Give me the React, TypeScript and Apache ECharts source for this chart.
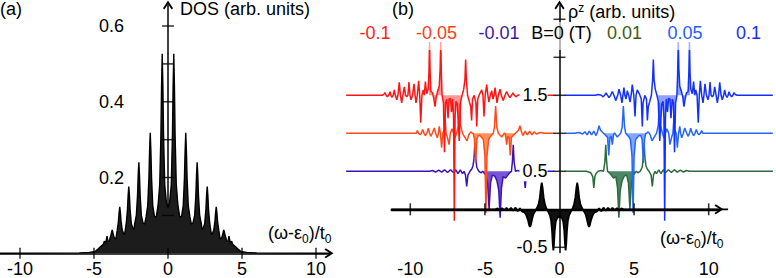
import React, { useEffect, useRef } from 'react';
import * as echarts from 'echarts';

// ---------- data ----------
const DOS_TICKS_X = [-10, -5, 0, 5, 10];
const DOS_TICKS_Y = [0.1, 0.2, 0.3, 0.4, 0.5, 0.6];
const DOS_LABELS_Y = [0.2, 0.4, 0.6];
const RHO_TICKS_X = [-10, -5, 5, 10];
const RHO_TICKS_Y = [-0.5, 0.5, 1, 1.5, 2, 2.5];
const RHO_LABELS_Y = [-0.5, 0.5, 1.5];
const RHO_LABELS_X = [-10, -5, 0, 5, 10];

const B_LABELS = ['-0.1', '-0.05', '-0.01', 'B=0 (T)', '0.01', '0.05', '0.1'];
const B_BASELINES = [1.5, 1.0, 0.5, 0, 0.5, 1.0, 1.5];

// DOS, left half (the curve is mirror symmetric about 0)
const DOS_LEFT: number[][] = [
  [-11.4, 0], [-8, 0.0005], [-6, 0.001], [-5.3, 0.002], [-5.0, 0.004], [-4.85, 0.007], [-4.7, 0.012], [-4.55, 0.018], [-4.45, 0.021],
  [-4.37, 0.024], [-4.3, 0.032], [-4.23, 0.027],
  [-4.19, 0.031], [-4.155, 0.038], [-4.12, 0.045], [-4.085, 0.038], [-4.05, 0.032], [-3.96, 0.031],
  [-3.92, 0.04], [-3.855, 0.048], [-3.81, 0.056], [-3.77, 0.062], [-3.73, 0.056], [-3.685, 0.048], [-3.62, 0.04], [-3.52, 0.038],
  [-3.43, 0.061], [-3.35, 0.084], [-3.305, 0.107], [-3.26, 0.123], [-3.215, 0.107], [-3.17, 0.084], [-3.09, 0.061], [-3.0, 0.052], [-2.93, 0.05],
  [-2.82, 0.079], [-2.74, 0.115], [-2.695, 0.152], [-2.65, 0.176], [-2.605, 0.152], [-2.56, 0.115], [-2.48, 0.079], [-2.38, 0.066], [-2.3, 0.063],
  [-2.25, 0.078], [-2.14, 0.1], [-2.06, 0.152], [-2.015, 0.205], [-1.97, 0.24], [-1.925, 0.205], [-1.88, 0.152], [-1.8, 0.1], [-1.69, 0.08], [-1.58, 0.077],
  [-1.48, 0.096], [-1.37, 0.126], [-1.29, 0.198], [-1.245, 0.27], [-1.2, 0.318], [-1.155, 0.27], [-1.11, 0.198], [-1.03, 0.126], [-0.92, 0.098], [-0.8, 0.094],
  [-0.67, 0.127], [-0.56, 0.181], [-0.48, 0.311], [-0.435, 0.44], [-0.39, 0.527], [-0.345, 0.44], [-0.3, 0.311], [-0.22, 0.181], [-0.11, 0.135], [0, 0.12],
];

// rho^z for B = -0.1 T (B = +0.1 T is its mirror image), relative to its baseline
const RHO_M010: number[][] = [
  [-14.3, 0], [-11.9, 0], [-11.78, 0.01], [-11.7, 0.035], [-11.62, 0], [-11.54, -0.02], [-11.45, 0], [-11.36, 0.047], [-11.3, 0], [-11.23, -0.026],
  [-11.15, 0], [-11.07, 0.07], [-11.0, 0], [-10.91, -0.06], [-10.83, 0], [-10.74, 0.17], [-10.66, 0], [-10.58, -0.1], [-10.5, 0], [-10.4, 0.11],
  [-10.32, 0], [-10.24, -0.02], [-10.16, 0], [-10.09, 0.175], [-10.02, 0], [-9.95, -0.06], [-9.85, 0], [-9.75, 0.15], [-9.68, 0], [-9.62, -0.1],
  [-9.53, 0], [-9.44, 0.19], [-9.37, 0], [-9.3, -0.36], [-9.22, 0], [-9.13, 0.07], [-9.06, 0], [-8.99, 0.18], [-8.9, 0.02], [-8.8, 0.08],
  [-8.75, 0.3], [-8.71, 0.7], [-8.67, 0.3], [-8.62, 0.05], [-8.5, 0.03], [-8.42, -0.05], [-8.34, -0.15], [-8.26, -0.02], [-8.16, 0.06], [-8.06, 0.12],
  [-8.0, 0.35], [-7.96, 0.7], [-7.92, 0.3], [-7.87, 0], [-7.78, -0.1], [-7.71, -0.75], [-7.64, -0.1], [-7.56, -0.05], [-7.47, -0.3], [-7.4, -0.05],
  [-7.31, -0.04], [-7.24, -0.22], [-7.16, -0.05], [-7.1, -0.3], [-7.05, -1.65], [-7.0, -0.3], [-6.94, -0.08], [-6.85, -0.12], [-6.72, -0.6], [-6.62, -0.08],
  [-6.53, 0], [-6.42, 0.08], [-6.34, 0.2], [-6.29, 0.47], [-6.24, 0.2], [-6.16, 0], [-6.05, -0.08], [-5.95, -0.15], [-5.89, -0.33], [-5.83, -0.05],
  [-5.72, 0], [-5.6, -0.1], [-5.55, -0.41], [-5.48, -0.05], [-5.35, 0.02], [-5.21, 0.07], [-5.13, 0], [-5.06, -0.28], [-4.98, 0], [-4.88, 0.14],
  [-4.8, 0], [-4.73, -0.09], [-4.64, 0], [-4.54, 0.06], [-4.46, -0.05], [-4.38, 0], [-4.32, 0.1], [-4.25, 0], [-4.19, -0.1], [-4.1, 0],
  [-3.99, 0.08], [-3.9, 0], [-3.77, -0.07], [-3.65, 0], [-3.54, 0.05], [-3.43, 0], [-3.32, -0.03], [-3.22, 0], [-3.12, 0.03], [-3.02, 0],
  [-2.92, -0.02], [-2.8, 0], [-2.6, 0.01], [-2.4, 0], [-0.35, 0],
];

// rho^z for B = -0.05 T (B = +0.05 T is its mirror image)
const RHO_M005: number[][] = [
  [-14.3, 0], [-9.7, 0], [-9.6, 0], [-9.53, 0.035], [-9.44, 0], [-9.35, -0.02], [-9.26, 0], [-9.17, 0.05], [-9.08, 0], [-8.99, -0.03],
  [-8.9, 0], [-8.79, 0.066], [-8.71, 0], [-8.63, -0.04], [-8.53, 0], [-8.39, 0.07], [-8.3, 0], [-8.19, -0.06], [-8.12, 0], [-8.06, 0.09],
  [-7.98, 0], [-7.9, -0.19], [-7.82, 0], [-7.72, 0.05], [-7.67, 0.2], [-7.6, 0], [-7.52, -0.05], [-7.4, -0.15], [-7.32, 0], [-7.2, 0.06],
  [-7.1, 0], [-7.0, -0.06], [-6.9, 0], [-6.78, 0.1], [-6.7, 0.4], [-6.62, 0.1], [-6.5, 0], [-6.35, -0.05], [-6.2, -0.1], [-6.08, -0.02],
  [-5.95, 0.02], [-5.85, 0], [-5.78, 0], [-5.7, -0.08], [-5.62, -0.39], [-5.54, -0.08], [-5.45, -0.03], [-5.33, -0.03], [-5.1, -0.08], [-5.0, -0.3],
  [-4.93, -1.05], [-4.86, -0.3], [-4.75, -0.08], [-4.66, -0.05], [-4.52, -0.02], [-4.44, 0], [-4.36, 0.08], [-4.28, 0.36], [-4.2, 0.08], [-4.1, 0],
  [-3.87, -0.05], [-3.72, 0], [-3.65, 0], [-3.6, -0.05], [-3.54, -0.15], [-3.47, -0.04], [-3.38, -0.06], [-3.3, -0.29], [-3.22, -0.05], [-3.1, -0.03],
  [-2.95, 0], [-2.75, 0.04], [-2.65, 0.1], [-2.55, 0.02], [-2.45, -0.03], [-2.3, 0.03], [-2.15, -0.02], [-2.0, 0.03], [-1.85, -0.02], [-1.7, 0.02],
  [-1.55, -0.01], [-1.3, 0.01], [-1.0, 0], [-0.35, 0],
];

// rho^z for B = -0.01 T (B = +0.01 T is its mirror image)
const RHO_M001: number[][] = [
  [-14.3, 0], [-8.7, 0], [-8.5, 0.01], [-8.3, -0.01], [-8.1, 0.015], [-7.9, -0.01], [-7.7, 0.02], [-7.5, -0.015], [-7.3, 0.02], [-7.1, -0.02],
  [-6.95, 0.02], [-6.8, -0.03], [-6.65, 0.02], [-6.5, -0.03], [-6.4, 0], [-6.3, -0.05], [-6.22, -0.2], [-6.14, -0.05], [-6.0, 0], [-5.88, 0.03],
  [-5.8, 0.07], [-5.73, 0.17], [-5.67, 0.37], [-5.61, 0.17], [-5.54, 0.05], [-5.4, 0], [-5.25, -0.02], [-5.15, 0], [-4.95, -0.05], [-4.82, -0.15],
  [-4.72, -0.5], [-4.62, -0.15], [-4.5, -0.05], [-4.35, -0.06], [-4.2, -0.12], [-4.07, -0.25], [-3.98, -0.61], [-3.89, -0.22], [-3.78, -0.07], [-3.62, -0.09],
  [-3.5, -0.06], [-3.35, -0.02], [-3.22, 0], [-3.16, 0.12], [-3.1, 0.35], [-3.04, 0.12], [-2.95, 0], [-2.8, 0.01], [-2.6, 0], [-2.45, -0.03],
  [-2.37, -0.07], [-2.3, -0.22], [-2.23, -0.07], [-2.1, -0.02], [-1.8, 0], [-0.35, 0],
];

// rho^z for B = 0, left half (mirror symmetric)
const RHO_B0_LEFT: number[][] = [
  [-11.3, 0], [-4.3, 0], [-4.15, 0.012], [-4.0, -0.01], [-3.85, 0.015], [-3.7, -0.012], [-3.55, 0.018], [-3.4, -0.015], [-3.25, 0.02], [-3.1, -0.02],
  [-2.95, 0.022], [-2.8, -0.025], [-2.65, 0.015], [-2.5, -0.03], [-2.35, -0.04], [-2.22, -0.08], [-2.1, -0.15], [-2.03, -0.21], [-1.98, -0.23], [-1.93, -0.21],
  [-1.86, -0.15], [-1.76, -0.07], [-1.62, -0.02], [-1.5, 0.02], [-1.4, 0.07], [-1.32, 0.15], [-1.25, 0.28], [-1.19, 0.35], [-1.13, 0.28], [-1.06, 0.15],
  [-0.98, 0.07], [-0.88, 0.01], [-0.76, -0.03], [-0.64, -0.08], [-0.56, -0.15], [-0.5, -0.28], [-0.45, -0.46], [-0.41, -0.54], [-0.37, -0.46], [-0.32, -0.28],
  [-0.25, -0.16], [-0.15, -0.11], [0, -0.1],
];

// shaded x-ranges of each negative-field curve
const FILL_M010 = [[-8.78, -6.53]];
const FILL_M005 = [[-5.8, -4.44], [-3.65, -2.95]];
const FILL_M001 = [[-5.15, -3.22]];

// ---------- styling ----------
const FONT = '"Liberation Sans", Arial, Helvetica, sans-serif';
const ARROW = 'path://M50,0 L100,78 L86,90 L50,34 L14,90 L0,78 Z';
const LINE_COLORS = ['#ff1414', '#ff4a1c', '#3a12b8', '#000000', '#2b6b3c', '#2466ff', '#1430ff'];
const FILL_COLORS = ['rgba(255,70,70,0.55)', 'rgba(255,120,50,0.8)', 'rgba(95,55,205,0.85)', '#111111', 'rgba(45,115,75,0.85)', 'rgba(90,140,255,0.75)', 'rgba(70,100,255,0.6)'];
const LABEL_COLORS = ['#ff2020', '#ff3a1a', '#3a18b0', '#000000', '#3e5c14', '#2a5cff', '#1a2cff'];
const LABEL_X = [375, 436.5, 499, 561.5, 624.5, 685, 748.5];

// layout (pixels)
const A_X0 = 168, A_PXU = 14.8, A_Y0 = 253.3, A_PYU = 378.8, A_LEFT = 0, A_RIGHT = 329, TOP = 5;
const B_X0 = 559.5, B_PXU = 14.92, B_Y0 = 209.3, B_PYU = 76, B_AX_LEFT = 391.7, B_AX_RIGHT = 719, B_BOTTOM = 252.6;
const B_CV_LEFT = 347, B_CV_RIGHT = 776;

function mirrorFull(half: number[][]) {
  const right = half.slice(0, -1).reverse().map(([x, y]) => [-x, y]);
  return [...half, ...right];
}
function flip(curve: number[][]) {
  return curve.map(([x, y]) => [-x, y]).reverse();
}

function buildOption() {
  const aMin = (A_LEFT - A_X0) / A_PXU;
  const aMax = (A_RIGHT - A_X0) / A_PXU;
  const aYMax = (A_Y0 - TOP) / A_PYU;
  const bYMin = -(B_BOTTOM - B_Y0) / B_PYU;
  const bYMax = (B_Y0 - TOP) / B_PYU;
  const bAxMin = (B_AX_LEFT - B_X0) / B_PXU;
  const bAxMax = (B_AX_RIGHT - B_X0) / B_PXU;
  const bCvMin = (B_CV_LEFT - B_X0) / B_PXU;
  const bCvMax = (B_CV_RIGHT - B_X0) / B_PXU;

  const labelStyle = { fontSize: 18, color: '#000', fontFamily: FONT };
  const arrowLine = (w: number) => ({
    show: true, onZero: true, symbol: ['none', ARROW], symbolSize: [10, 9],
    lineStyle: { color: '#000', width: w },
  });

  const curves = [
    RHO_M010, RHO_M005, RHO_M001, mirrorFull(RHO_B0_LEFT),
    flip(RHO_M001), flip(RHO_M005), flip(RHO_M010),
  ];
  const mirrorRanges = (r: number[][]) => r.map(([a, b]) => [-b, -a]);
  const fills = [FILL_M010, FILL_M005, FILL_M001, [[-20, 20]], mirrorRanges(FILL_M001), mirrorRanges(FILL_M005), mirrorRanges(FILL_M010)];
  const drawOrder = [2, 1, 0, 4, 5, 6, 3];

  const series: any[] = [
    {
      type: 'line', xAxisIndex: 0, yAxisIndex: 0, data: mirrorFull(DOS_LEFT), showSymbol: false, silent: true,
      lineStyle: { color: '#000', width: 1.4 }, areaStyle: { color: '#1c1c1c', opacity: 1, origin: 0 }, z: 2,
    },
    {
      type: 'scatter', xAxisIndex: 0, yAxisIndex: 0, data: DOS_TICKS_X.map((v) => [v, 0]), symbol: 'rect',
      symbolSize: [1.5, 11], itemStyle: { color: '#000' }, clip: false, silent: true, z: 6,
    },
    {
      type: 'scatter', xAxisIndex: 0, yAxisIndex: 0, data: DOS_TICKS_Y.map((v) => [0, v]), symbol: 'rect',
      symbolSize: [12, 1.5], itemStyle: { color: '#000' }, clip: false, silent: true, z: 6,
    },
  ];

  drawOrder.forEach((i, k) => {
    const base = B_BASELINES[i];
    const pts = curves[i].map(([x, v]) => [x, base + v]);
    fills[i].forEach(([a, b]) => {
      series.push({
        type: 'line', xAxisIndex: 2, yAxisIndex: 2, showSymbol: false, silent: true,
        data: pts.filter(([x]) => x >= a && x <= b),
        lineStyle: { width: 0, opacity: 0 },
        areaStyle: { color: FILL_COLORS[i], opacity: 1, origin: base }, z: 3 + k * 0.1,
      });
    });
    series.push({
      type: 'line', xAxisIndex: 2, yAxisIndex: 2, showSymbol: false, silent: true, data: pts,
      lineStyle: { color: LINE_COLORS[i], width: i === 3 ? 1.8 : 1.5 }, z: 3.05 + k * 0.1,
    });
  });

  series.push(
    {
      type: 'scatter', xAxisIndex: 1, yAxisIndex: 1, data: RHO_TICKS_X.map((v) => [v, 0]), symbol: 'rect',
      symbolSize: [1.6, 12], itemStyle: { color: '#000' }, clip: false, silent: true, z: 8,
    },
    {
      type: 'scatter', xAxisIndex: 1, yAxisIndex: 1, data: RHO_TICKS_Y.map((v) => [0, v]), symbol: 'rect',
      symbolSize: [12, 1.5], itemStyle: { color: '#000' }, clip: false, silent: true, z: 8,
    },
  );

  const sub = { fontSize: 12, fontFamily: FONT, lineHeight: 12, verticalAlign: 'bottom', fill: '#000' };
  const sup = { fontSize: 12, fontFamily: FONT, lineHeight: 12, verticalAlign: 'top', fill: '#000' };
  const txt = (x: number, y: number, text: string, extra: any = {}) => ({
    type: 'text', x, y, z: 100, silent: true,
    style: {
      text, fill: '#000', fontSize: 18, fontFamily: FONT, lineHeight: 24,
      align: 'left', verticalAlign: 'middle', textAlign: 'left', textVerticalAlign: 'middle',
      rich: { sub, sup }, ...extra,
    },
  });

  const graphics: any[] = [
    txt(0, 9, '(a)'),
    txt(392, 9, '(b)'),
    txt(180, 9, 'DOS (arb. units)'),
    txt(568, 12, 'ρ{sup|z} (arb. units)', { lineHeight: 20 }),
    txt(268, 233, '(ω-ε{sub|0})/t{sub|0}'),
    txt(660, 238, '(ω-ε{sub|0})/t{sub|0}'),
  ];
  B_LABELS.forEach((lab, i) => {
    graphics.push(txt(LABEL_X[i], 36, lab, {
      fill: LABEL_COLORS[i], align: 'center', textAlign: 'center', lineHeight: 20,
      backgroundColor: 'rgba(255,255,255,0.62)', padding: [1, 2, 7, 2],
    }));
  });

  const gridBox = (left: number, right: number, bottom: number) => ({
    left, top: TOP, width: right - left, height: bottom - TOP, containLabel: false, outerBoundsMode: 'none',
  });

  return {
    animation: false,
    backgroundColor: '#fff',
    textStyle: { fontFamily: FONT },
    grid: [
      gridBox(A_LEFT, A_RIGHT, A_Y0),
      gridBox(B_AX_LEFT, B_AX_RIGHT, B_BOTTOM),
      gridBox(B_CV_LEFT, B_CV_RIGHT, B_BOTTOM),
      gridBox(A_X0, A_RIGHT, A_Y0), // y labels of panel (a), left edge on its y axis
      gridBox(B_X0, B_CV_RIGHT, B_BOTTOM), // y labels of panel (b), left edge on its y axis
    ],
    xAxis: [
      {
        type: 'value', gridIndex: 0, min: aMin, max: aMax, axisLine: arrowLine(1.5), axisTick: { show: false },
        splitLine: { show: false }, axisLabel: { ...labelStyle, customValues: DOS_TICKS_X, margin: 7 },
      },
      {
        type: 'value', gridIndex: 1, min: bAxMin, max: bAxMax, axisLine: arrowLine(2.4), axisTick: { show: false },
        splitLine: { show: false }, axisLabel: { show: false }, z: 4,
      },
      {
        type: 'value', gridIndex: 2, min: bCvMin, max: bCvMax, position: 'bottom',
        axisLine: { show: false, onZero: false }, axisTick: { show: false }, splitLine: { show: false },
        axisLabel: { ...labelStyle, customValues: RHO_LABELS_X, margin: 7 },
      },
      { type: 'value', gridIndex: 3, min: 0, max: 1, show: false },
      { type: 'value', gridIndex: 4, min: 0, max: 1, show: false },
    ],
    yAxis: [
      {
        type: 'value', gridIndex: 0, min: 0, max: aYMax, axisLine: arrowLine(1.5), axisTick: { show: false },
        splitLine: { show: false }, axisLabel: { show: false },
      },
      {
        type: 'value', gridIndex: 1, min: bYMin, max: bYMax, axisLine: arrowLine(1.5), axisTick: { show: false },
        splitLine: { show: false }, axisLabel: { show: false }, z: 4,
      },
      { type: 'value', gridIndex: 2, min: bYMin, max: bYMax, show: false, splitLine: { show: false } },
      {
        type: 'value', gridIndex: 3, min: 0, max: aYMax, position: 'left',
        axisLine: { show: false, onZero: false }, axisTick: { show: false }, splitLine: { show: false },
        axisLabel: { ...labelStyle, customValues: DOS_LABELS_Y, margin: 44, formatter: (v: number) => v.toFixed(1) },
      },
      {
        type: 'value', gridIndex: 4, min: bYMin, max: bYMax, position: 'left', z: 10,
        axisLine: { show: false, onZero: false }, axisTick: { show: false }, splitLine: { show: false },
        axisLabel: {
          ...labelStyle, customValues: RHO_LABELS_Y, margin: 12, formatter: (v: number) => v.toFixed(1),
          backgroundColor: '#fff', padding: [1, 0, 1, 3],
        },
      },
    ],
    series,
    graphic: { elements: graphics },
  };
}

export default function App() {
  const ref = useRef<HTMLDivElement>(null);
  useEffect(() => {
    if (!ref.current) return;
    const chart = echarts.init(ref.current, undefined, { renderer: 'svg' });
    chart.setOption(buildOption() as any);
    return () => chart.dispose();
  }, []);
  return <div ref={ref} style={{ position: 'fixed', left: 0, top: 0, width: 776, height: 278, background: '#fff' }} />;
}
